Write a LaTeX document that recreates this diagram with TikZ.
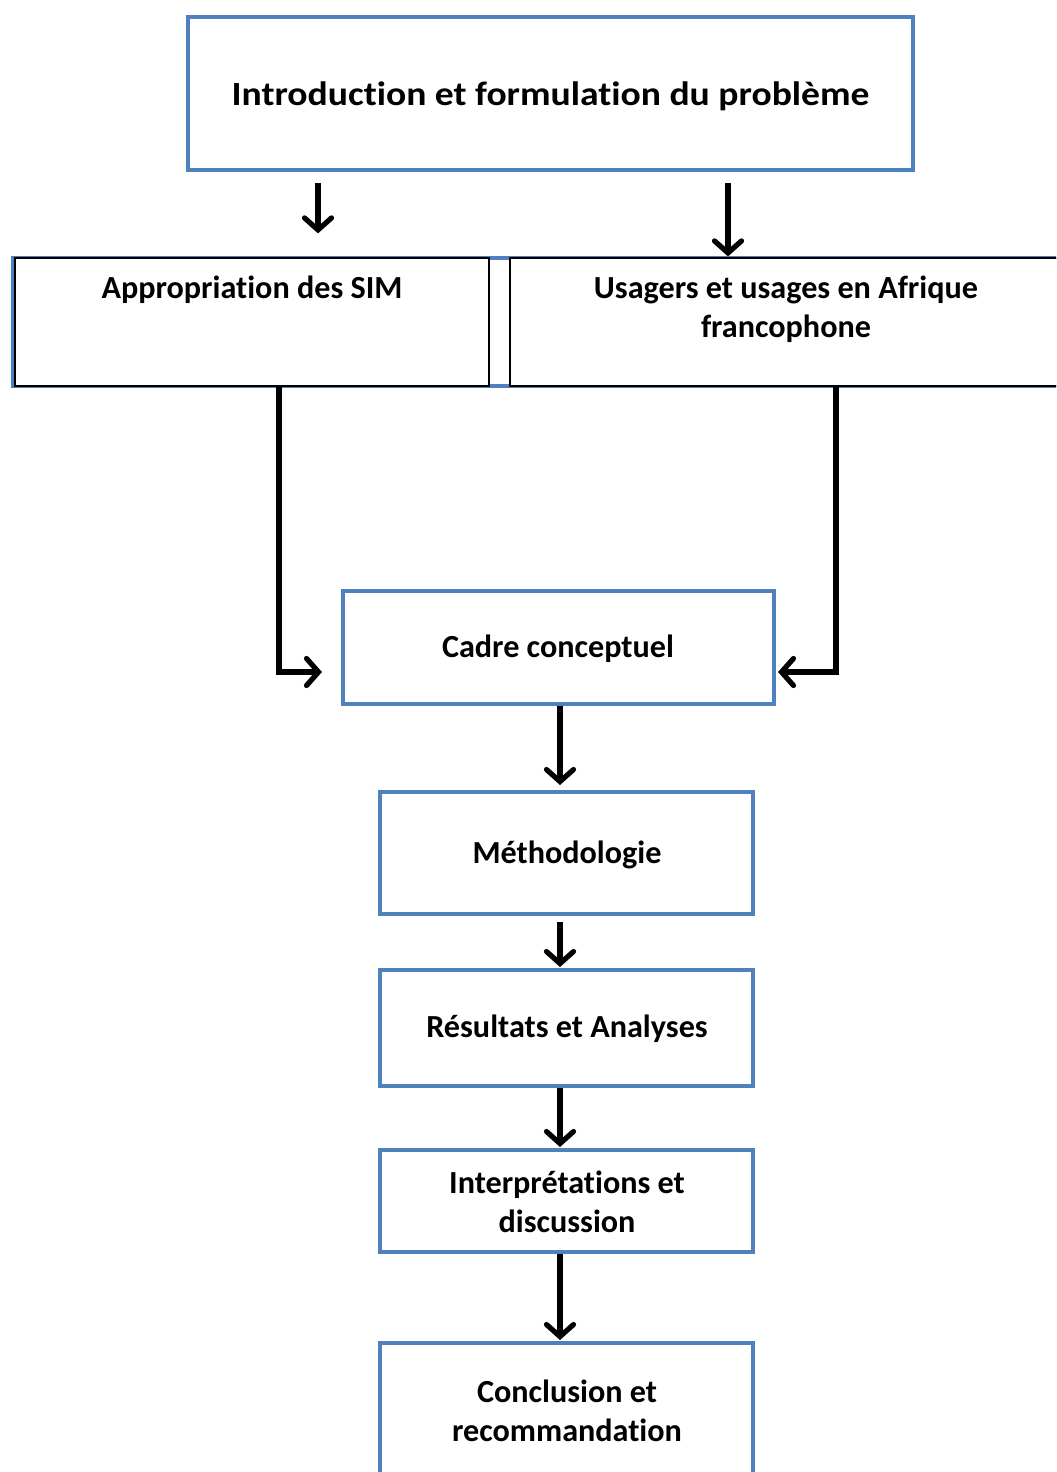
\documentclass[tikz,border=0pt]{standalone}
\usepackage{fontspec}
\setmainfont{Carlito}[Ligatures={NoCommon}]
\usetikzlibrary{arrows.meta}
\definecolor{boxblue}{HTML}{4F81BD}
\begin{document}
\begin{tikzpicture}[x=1bp,y=-1bp,
  bluebox/.style={draw=boxblue,line width=4bp,fill=white,rectangle,inner sep=0pt},
  innerbox/.style={draw=black,line width=1.2bp,fill=white,rectangle,inner sep=0pt},
  txt/.style={font=\fontsize{32.3}{39}\selectfont\bfseries,align=center,inner sep=0pt},
  arr/.style={line width=5.2bp,-{Straight Barb[length=12bp,width=27bp,line width=5.2bp,line cap=round]}}]
\useasboundingbox (0,0) rectangle (1056,1472);
\clip (0,0) rectangle (1056,1472);
% top box
\node[bluebox,minimum width=725bp,minimum height=153bp] (top) at (550.5,93.5) {};
\node[txt,font=\fontsize{34}{40}\selectfont\bfseries] (toptxt) at (550.5,96) {\scalebox{1.11}[1]{Introduction et formulation du problème}};
% second row frame and boxes
\node[draw=boxblue,line width=4bp,rectangle,inner sep=0pt,minimum width=1070bp,minimum height=128bp] (frame) at (548,322) {};
\node[innerbox,minimum width=474bp,minimum height=128bp] (app) at (252,322) {};
\node[innerbox,minimum width=560bp,minimum height=128bp] (usa) at (790,322) {};
\node[txt] (apptxt) at (252,290) {Appropriation des SIM};
\node[txt] (usatxt) at (786,309) {Usagers et usages en Afrique\\francophone};
% lower boxes
\node[bluebox,minimum width=431bp,minimum height=113bp] (cadre) at (558.5,647.5) {};
\node[txt] (cadretxt) at (558,649) {Cadre conceptuel};
\node[bluebox,minimum width=373bp,minimum height=122bp] (meth) at (566.5,853) {};
\node[txt] (methtxt) at (567,855) {Méthodologie};
\node[bluebox,minimum width=373bp,minimum height=116bp] (res) at (566.5,1028) {};
\node[txt] (restxt) at (567,1029) {Résultats et Analyses};
\node[bluebox,minimum width=373bp,minimum height=102bp] (interp) at (566.5,1201) {};
\node[txt] (interptxt) at (567,1202) {Interprétations et\\discussion};
\node[bluebox,minimum width=373bp,minimum height=160bp] (concl) at (566.5,1423) {};
\node[txt] (concltxt) at (567,1411) {Conclusion et\\recommandation};
% connector helpers
\coordinate (xa) at (318,0);
\coordinate (xb) at (728,0);
\coordinate (xc) at (279,0);
\coordinate (xd) at (836,0);
\coordinate (xm) at (560,0);
\coordinate (ya) at (0,672);
% connectors
\draw[arr,shorten <=11bp] (top.south -| xa) -- ([yshift=24bp]app.north -| xa);
\draw[arr,shorten <=11bp] (top.south -| xb) -- ([yshift=1bp]usa.north -| xb);
\draw[arr] (app.south -| xc) -- (xc |- ya) -- ([xshift=-19bp]cadre.west |- ya);
\draw[arr] (usa.south -| xd) -- (xd |- ya) -- ([xshift=2bp]cadre.east |- ya);
\draw[arr] (cadre.south -| xm) -- ([yshift=5bp]meth.north -| xm);
\draw[arr,shorten <=6bp] (meth.south -| xm) -- ([yshift=1bp]res.north -| xm);
\draw[arr] (res.south -| xm) -- ([yshift=1bp]interp.north -| xm);
\draw[arr] (interp.south -| xm) -- ([yshift=1bp]concl.north -| xm);
\end{tikzpicture}
\end{document}
